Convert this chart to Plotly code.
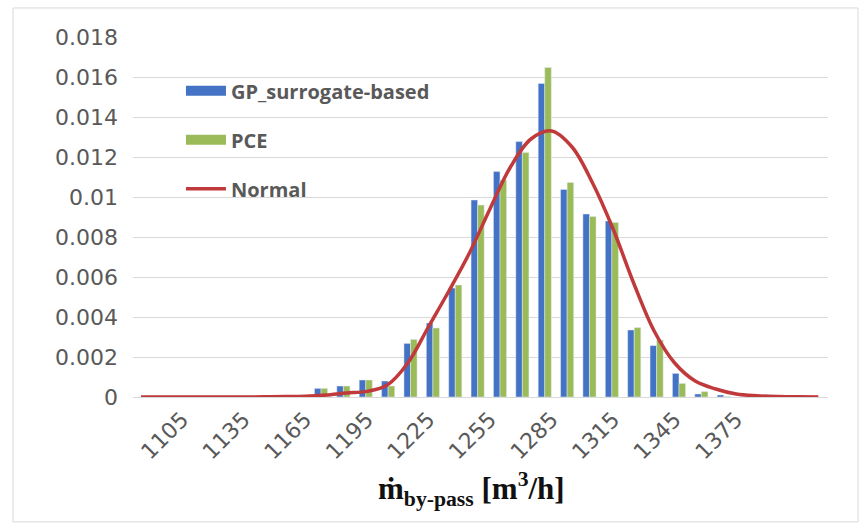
import plotly.graph_objects as go

# ---- data ----
bin_centers = [1172.7, 1183.6, 1194.5, 1205.4, 1216.3, 1227.2, 1238.1, 1249.0, 1259.9, 1270.8,
               1281.7, 1292.6, 1303.5, 1314.4, 1325.3, 1336.2, 1347.1, 1358.0, 1368.9]
gp_values = [0.00043, 0.00055, 0.00085, 0.00080, 0.00268, 0.00370, 0.00545, 0.00985, 0.01127, 0.01277,
             0.01568, 0.01038, 0.00915, 0.00880, 0.00335, 0.00257, 0.00118, 0.00015, 0.00010]
pce_values = [0.00043, 0.00055, 0.00085, 0.00055, 0.00288, 0.00345, 0.00560, 0.00960, 0.01085, 0.01222,
              0.01648, 0.01073, 0.00902, 0.00873, 0.00347, 0.00285, 0.00068, 0.00027, 0.00002]

normal_x = [1085, 1095, 1105, 1115, 1125, 1135, 1145, 1155, 1165, 1175, 1185, 1195, 1205, 1215,
            1225, 1235, 1245, 1255, 1265, 1275, 1285, 1295, 1305, 1315, 1325, 1335, 1345, 1355,
            1365, 1375, 1385, 1395, 1405, 1415]
normal_y = [0, 0, 0, 0, 0, 0, 0.00001, 0.00002, 0.00004, 0.0001, 0.0002, 0.00028, 0.0006, 0.0017,
            0.0035, 0.0053, 0.0072, 0.0094, 0.0115, 0.0129, 0.0133, 0.0125, 0.0107, 0.0084,
            0.0057, 0.0033, 0.0017, 0.0008, 0.0004, 0.00015, 0.00006, 0.00002, 0.00001, 0]

x_tick_vals = [1105, 1135, 1165, 1195, 1225, 1255, 1285, 1315, 1345, 1375]
x_tick_labels = [str(v) for v in x_tick_vals]
y_tick_vals = [0, 0.002, 0.004, 0.006, 0.008, 0.01, 0.012, 0.014, 0.016, 0.018]
y_tick_labels = ["0", "0.002", "0.004", "0.006", "0.008", "0.01", "0.012", "0.014", "0.016", "0.018"]

series_names = ["GP_surrogate-based", "PCE", "Normal"]

BLUE = "#4472C4"
GREEN = "#9BBB59"
RED = "#C0393B"
GRAY = "#595959"

bar_w = 3.2

fig = go.Figure()
fig.add_trace(go.Bar(x=bin_centers, y=gp_values, name=series_names[0], marker_color=BLUE,
                     width=bar_w, offset=-bar_w, showlegend=False))
fig.add_trace(go.Bar(x=bin_centers, y=pce_values, name=series_names[1], marker_color=GREEN,
                     width=bar_w, offset=0, showlegend=False))
fig.add_trace(go.Scatter(x=normal_x, y=normal_y, name=series_names[2], mode="lines",
                         line=dict(color=RED, width=3.5, shape="spline"), showlegend=False))

# legend entries (wide swatches like the reference)
legend_colors = [BLUE, GREEN, RED]
legend_widths = [13, 13, 3.5]
for i, nm in enumerate(series_names):
    fig.add_trace(go.Scatter(x=[None], y=[None], mode="lines", name=nm,
                             line=dict(color=legend_colors[i], width=legend_widths[i]),
                             legendgroup="g%d" % i, showlegend=True))

fig.update_layout(
    width=859, height=523,
    margin=dict(l=133, r=31, t=37, b=126),
    plot_bgcolor="white", paper_bgcolor="white",
    barmode="overlay",
    showlegend=True,
    legend=dict(x=0.069, y=0.905, xanchor="left", yanchor="top",
                font=dict(family="Open Sans", size=20, color=GRAY, weight="bold"),
                tracegroupgap=20, itemwidth=40, bgcolor="rgba(255,255,255,0)"),
    xaxis=dict(range=[1081.1, 1419.7], tickmode="array", tickvals=x_tick_vals,
               ticktext=x_tick_labels, tickangle=-45, showgrid=False,
               showline=True, linecolor="#D9D9D9", linewidth=1, ticks="",
               ticklabelstandoff=0,
               tickfont=dict(family="DejaVu Sans", size=22, color=GRAY), zeroline=False),
    yaxis=dict(range=[0, 0.018], tickmode="array", tickvals=y_tick_vals, ticktext=y_tick_labels,
               showgrid=True, gridcolor="#D9D9D9", gridwidth=1, zeroline=False, ticks="",
               ticklabelstandoff=14,
               tickfont=dict(family="DejaVu Sans", size=22, color=GRAY)),
    annotations=[dict(text="ṁ<sub>by-pass</sub> [m<sup>3</sup>/h]", xref="paper", yref="paper",
                      x=0.487, y=-0.255, xanchor="center", yanchor="middle", showarrow=False,
                      font=dict(family="Liberation Serif", size=31, color="#111111", weight="bold"))],
    shapes=[dict(type="rect", xref="paper", yref="paper", x0=-0.1727, x1=1.0432, y0=-0.347, y1=1.0806,
                 line=dict(color="#D9D9D9", width=1), fillcolor="rgba(0,0,0,0)", layer="below")],
)

fig.write_html("out.html")
